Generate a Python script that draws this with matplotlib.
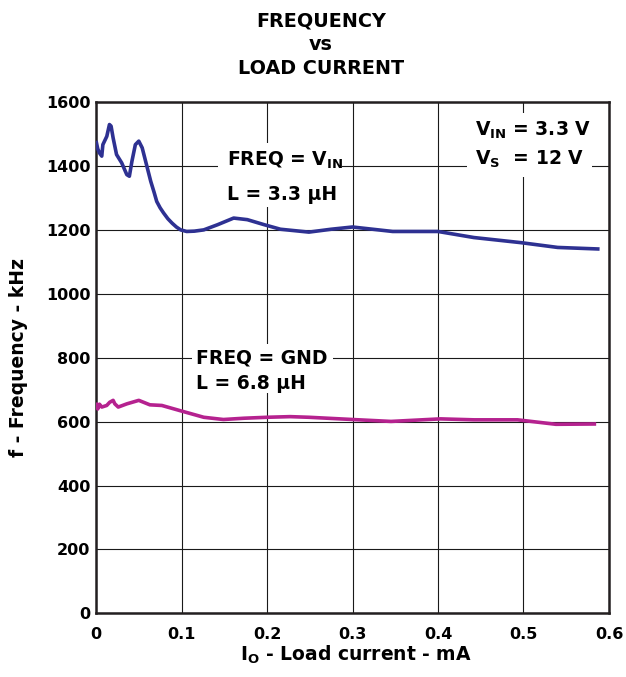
"""Frequency vs load current, two converter configurations."""
import matplotlib

matplotlib.use("Agg")
import matplotlib.pyplot as plt
from matplotlib.patches import Rectangle

# blue trace: FREQ = VIN, L = 3.3 uH
vin_current = [0.0, 0.002, 0.004, 0.0067, 0.008, 0.0126, 0.0157, 0.0176, 0.020,
               0.024, 0.030, 0.036, 0.039, 0.042, 0.046, 0.050, 0.054, 0.060,
               0.064, 0.068, 0.071, 0.075, 0.079, 0.084, 0.089, 0.094, 0.099,
               0.106, 0.115, 0.126, 0.142, 0.161, 0.177, 0.197, 0.2157, 0.249,
               0.275, 0.300, 0.347, 0.400, 0.442, 0.497, 0.540, 0.589]
vin_freq = [1480, 1455, 1442, 1432, 1468, 1494, 1531, 1526, 1489,
            1437, 1411, 1374, 1369, 1416, 1468, 1479, 1458, 1395,
            1353, 1318, 1290, 1270, 1254, 1236, 1222, 1210, 1201,
            1196, 1197, 1201, 1217, 1238, 1233, 1217, 1203, 1194,
            1203, 1210, 1196, 1196, 1177, 1161, 1146, 1141]

# magenta trace: FREQ = GND, L = 6.8 uH
gnd_current = [0.0, 0.002, 0.004, 0.0067, 0.0125, 0.016, 0.020, 0.022, 0.026,
               0.036, 0.050, 0.063, 0.077, 0.098, 0.126, 0.149, 0.173, 0.200,
               0.227, 0.249, 0.300, 0.345, 0.403, 0.442, 0.493, 0.538, 0.585]
gnd_freq = [660, 640, 655, 646, 651, 661, 667, 656, 646,
            656, 667, 653, 651, 635, 614, 607, 611, 614,
            616, 614, 607, 601, 609, 606, 606, 592, 593]

x_ticks = [0, 0.1, 0.2, 0.3, 0.4, 0.5, 0.6]
x_tick_labels = ["0", "0.1", "0.2", "0.3", "0.4", "0.5", "0.6"]
y_ticks = [0, 200, 400, 600, 800, 1000, 1200, 1400, 1600]

plt.rcParams["font.family"] = "DejaVu Sans"
plt.rcParams["font.weight"] = "bold"
plt.rcParams["mathtext.default"] = "bf"

fig = plt.figure(figsize=(6.26, 6.77), dpi=100)
ax = fig.add_axes([0.1534, 0.0941, 0.8194, 0.7545])

ax.plot(vin_current, vin_freq, color="#2e3192", lw=2.6, zorder=3,
        solid_joinstyle="round", solid_capstyle="butt")
ax.plot(gnd_current, gnd_freq, color="#b5228f", lw=2.6, zorder=3,
        solid_joinstyle="round", solid_capstyle="butt")

ax.set_xlim(0, 0.6)
ax.set_ylim(0, 1600)
ax.set_xticks(x_ticks)
ax.set_xticklabels(x_tick_labels)
ax.set_yticks(y_ticks)
ax.tick_params(length=0, labelsize=11.5)
ax.tick_params(axis="x", pad=10)
ax.tick_params(axis="y", pad=4)
ax.grid(True, color="#1a1a1a", lw=0.8)
ax.set_axisbelow(True)
for side in ax.spines.values():
    side.set_linewidth(1.8)
    side.set_color("#231f20")

# white patches that break the grid behind each label block
for x0, x1, y0, y1 in [(0.1427, 0.2877, 1273, 1473),
                       (0.1123, 0.2772, 690, 845),
                       (0.434, 0.580, 1366, 1567)]:
    ax.add_patch(Rectangle((x0, y0), x1 - x0, y1 - y0, facecolor="white",
                           edgecolor="none", zorder=1))

ax.text(0.1532, 1401, "FREQ = V$_{IN}$", fontsize=13.5, va="baseline", zorder=2)
ax.text(0.1532, 1295, "L = 3.3 \u03bcH", fontsize=13.5, va="baseline", zorder=2)
ax.text(0.117, 781, "FREQ = GND", fontsize=13.5, va="baseline", zorder=2)
ax.text(0.117, 702, "L = 6.8 \u03bcH", fontsize=13.5, va="baseline", zorder=2)
ax.text(0.4433, 1495, "V$_{IN}$ = 3.3 V", fontsize=13.5, va="baseline", zorder=2)
ax.text(0.4433, 1405, "V$_{S}$  = 12 V", fontsize=13.5, va="baseline", zorder=2)

ax.text(0.507, -0.0934, "I$_{O}$ - Load current - mA", transform=ax.transAxes,
        ha="center", va="baseline", fontsize=13.5)
ax.text(-0.152, 0.5, "f - Frequency - kHz", transform=ax.transAxes,
        ha="center", va="center", rotation=90, fontsize=13.5)

for txt, yb in [("FREQUENCY", 0.9606), ("vs", 0.9261), ("LOAD CURRENT", 0.8907)]:
    fig.text(321 / 626, yb, txt, ha="center", va="baseline", fontsize=13.8)

fig.savefig("out.png", dpi=100)
